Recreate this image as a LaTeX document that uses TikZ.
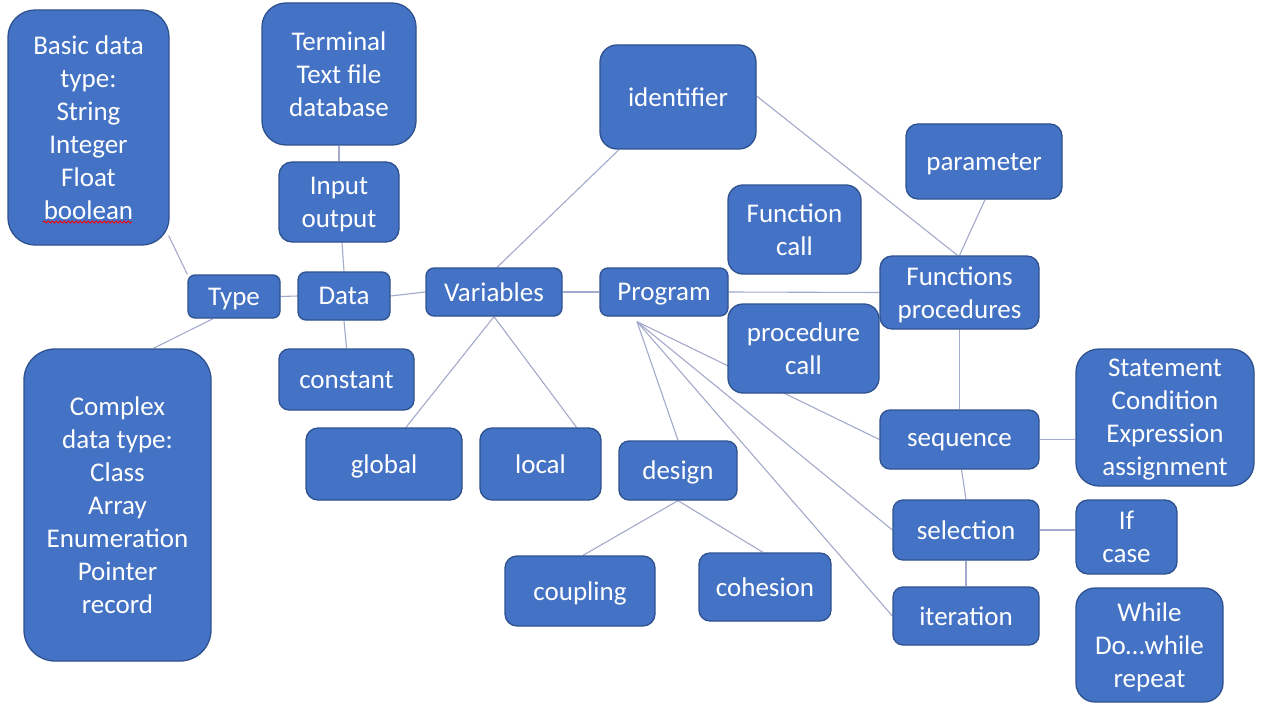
\documentclass[tikz,border=0pt]{standalone}
\usepackage{fontspec}
\setmainfont{Carlito}
\usetikzlibrary{backgrounds,calc,decorations.pathmorphing}
\definecolor{boxblue}{HTML}{4472C4}
\definecolor{boxedge}{HTML}{2F528F}
\definecolor{linkc}{HTML}{A3AACB}
\begin{document}
\begin{tikzpicture}[x=1pt,y=-1pt,
  box/.style={draw=boxedge, fill=boxblue, line width=1.3pt, text=white, align=center,
    font=\fontsize{27}{33}\selectfont, inner sep=0pt, text depth=-4pt},
  link/.style={draw=linkc, line width=1.1pt},
  squiggle/.style={draw=red, line width=0.9pt, decorate, decoration={snake, segment length=4pt, amplitude=1pt}}]
\useasboundingbox (0,0) rectangle (1261,706);

\node[box, rounded corners=27pt, minimum width=161pt, minimum height=235pt] (basic) at (88.5,127.5) {Basic data\\type:\\String\\Integer\\Float\\boolean};
\node[box, rounded corners=24pt, minimum width=154pt, minimum height=142pt] (term) at (339,74) {Terminal\\Text file\\database};
\node[box, rounded corners=13pt, minimum width=120pt, minimum height=80pt] (io) at (339,202) {Input\\output};
\node[box, rounded corners=7pt, minimum width=92pt, minimum height=43pt] (type) at (234,296.5) {Type};
\node[box, rounded corners=8pt, minimum width=92pt, minimum height=48pt] (data) at (344,296) {Data};
\node[box, rounded corners=10pt, minimum width=135pt, minimum height=61pt] (const) at (346.5,379.5) {constant};
\node[box, rounded corners=31pt, minimum width=187pt, minimum height=312pt] (complex) at (117.5,505) {Complex\\data type:\\Class\\Array\\Enumeration\\Pointer\\record};
\node[box, rounded corners=8pt, minimum width=136pt, minimum height=48pt] (vars) at (494,292) {Variables};
\node[box, rounded corners=12pt, minimum width=156pt, minimum height=72pt] (global) at (384,464) {global};
\node[box, rounded corners=12pt, minimum width=121pt, minimum height=72pt] (local) at (540.5,464) {local};
\node[box, rounded corners=17pt, minimum width=156pt, minimum height=104pt] (ident) at (678,97) {identifier};
\node[box, rounded corners=8pt, minimum width=128pt, minimum height=48pt] (prog) at (664,292) {Program};
\node[box, rounded corners=15pt, minimum width=133pt, minimum height=89pt] (fcall) at (794.5,229.5) {Function\\call};
\node[box, rounded corners=15pt, minimum width=151pt, minimum height=89pt] (pcall) at (803.5,348.5) {procedure\\call};
\node[box, rounded corners=12pt, minimum width=156pt, minimum height=75pt] (param) at (984,161.5) {parameter};
\node[box, rounded corners=12pt, minimum width=159pt, minimum height=73pt] (funcs) at (959.5,292.5) {Functions\\procedures};
\node[box, rounded corners=23pt, minimum width=178pt, minimum height=137pt] (stmt) at (1165,417.5) {Statement\\Condition\\Expression\\assignment};
\node[box, rounded corners=10pt, minimum width=159pt, minimum height=59pt] (seq) at (959.5,439.5) {sequence};
\node[box, rounded corners=10pt, minimum width=146pt, minimum height=60pt] (sel) at (966,530) {selection};
\node[box, rounded corners=12pt, minimum width=101pt, minimum height=74pt] (ifc) at (1126.5,537) {If\\case};
\node[box, rounded corners=10pt, minimum width=146pt, minimum height=58pt] (iter) at (966,616) {iteration};
\node[box, rounded corners=19pt, minimum width=147pt, minimum height=114pt] (while) at (1149.5,645) {While\\Do…while\\repeat};
\node[box, rounded corners=10pt, minimum width=118pt, minimum height=59pt] (design) at (678,470.5) {design};
\node[box, rounded corners=12pt, minimum width=150pt, minimum height=70pt] (coupl) at (580,591) {coupling};
\node[box, rounded corners=11pt, minimum width=132pt, minimum height=68pt] (cohes) at (765,587) {cohesion};

\draw[squiggle] (43,222) -- (132,222);

\begin{scope}[on background layer]
\fill[white] (0,0) rectangle (1261,706);
\coordinate (pf) at ([xshift=-27pt,yshift=-5pt]prog.south);
\draw[link] ($(basic.south east)+(-1,-10)$) -- (type.north west);
\draw[link] ([xshift=-21pt]type.south) -- ([xshift=36pt]complex.north);
\draw[link] (type.east) -- (data.west);
\draw[link] (term.south) -- (io.north);
\draw[link] ([xshift=3pt]io.south) -- (data.north);
\draw[link] (data.south) -- (const.north);
\draw[link] (data.east) -- (vars.west);
\draw[link] ([xshift=3pt]vars.north) -- ([xshift=-59pt]ident.south);
\draw[link] (vars.south) -- ([xshift=22pt]global.north);
\draw[link] (vars.south) -- ([xshift=36pt]local.north);
\draw[link] (vars.east) -- (prog.west);
\draw[link] (prog.east) -- (funcs.west);
\draw[link] ([yshift=1pt]ident.east) -- ([xshift=-2pt]funcs.north);
\draw[link] ([xshift=1pt]param.south) -- (funcs.north);
\draw[link] (funcs.south) -- (seq.north);
\draw[link] (pf) -- (design.north);
\draw[link] (pf) -- (seq.west);
\draw[link] (pf) -- (sel.west);
\draw[link] (pf) -- (iter.west);
\draw[link] ([xshift=2pt]seq.south) -- (sel.north);
\draw[link] (sel.south) -- (iter.north);
\draw[link] (seq.east) -- (seq.east -| stmt.west);
\draw[link] (sel.east) -- (sel.east -| ifc.west);
\draw[link] (design.south) -- ([xshift=3pt]coupl.north);
\draw[link] (design.south) -- ([xshift=-2pt]cohes.north);
\end{scope}
\end{tikzpicture}
\end{document}
